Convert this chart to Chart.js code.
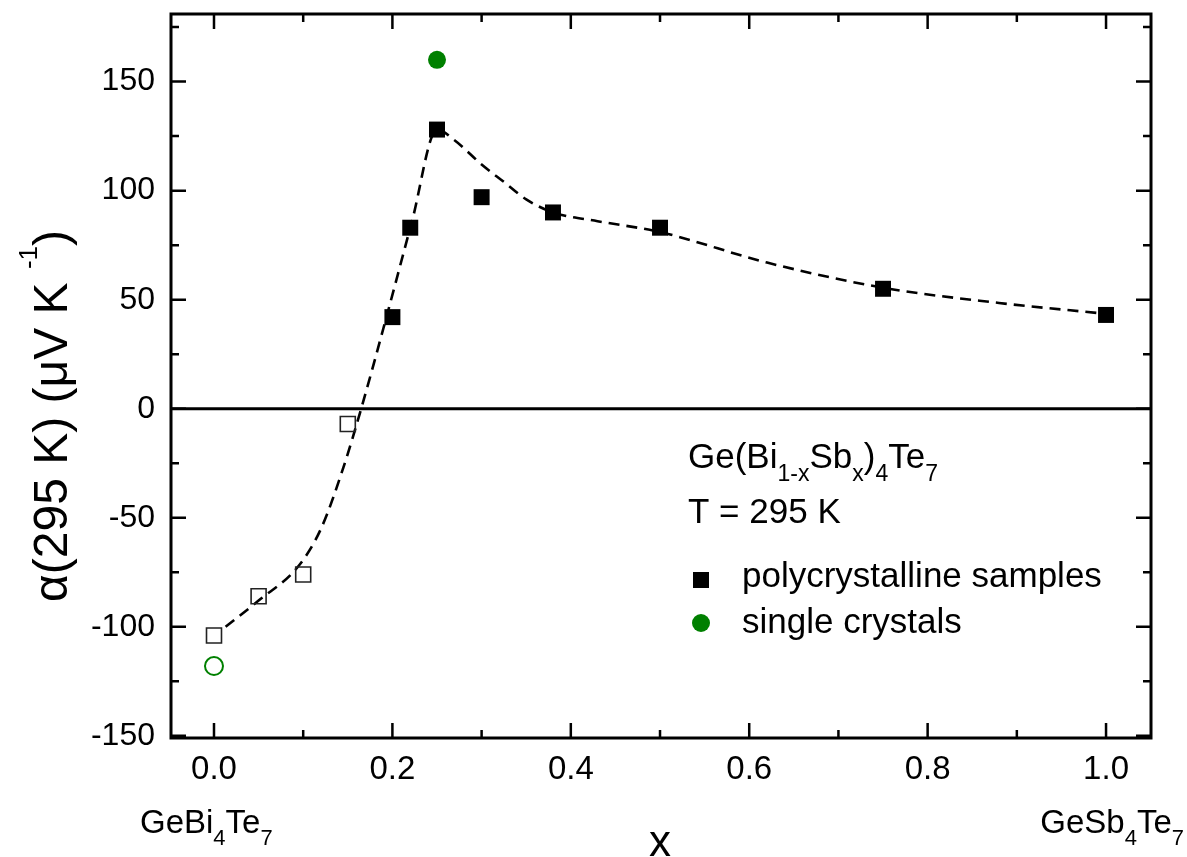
<!DOCTYPE html>
<html>
<head>
<meta charset="utf-8">
<script src="https://cdn.jsdelivr.net/npm/chart.js@4/dist/chart.umd.min.js"></script>
<style>
  html, body { margin: 0; padding: 0; background: #fff; }
</style>
</head>
<body>
<canvas id="chart" width="1187" height="857"></canvas>
<script>
// tick positions
const xTicks = [0, 0.2, 0.4, 0.6, 0.8, 1.0];
const xMinor = [0.1, 0.3, 0.5, 0.7, 0.9];
const yTicks = [-150, -100, -50, 0, 50, 100, 150];
const yMinor = [-125, -75, -25, 25, 75, 125, 175];

// polycrystalline samples (open = n-type side, filled = p-type side)
const polyOpenX = [0, 0.05, 0.1, 0.15];
const polyOpenY = [-104, -86, -76, -7];
const polyX = [0.2, 0.22, 0.25, 0.3, 0.38, 0.5, 0.75, 1.0];
const polyY = [42, 83, 128, 97, 90, 83, 55, 43];

// single crystals
const singleX = [0.25];
const singleY = [160];
const singleOpenX = [0];
const singleOpenY = [-118];

// dashed guide line
const fitX = [0.013, 0.05, 0.095, 0.12, 0.145, 0.165, 0.19, 0.222, 0.25, 0.27, 0.3, 0.325, 0.35, 0.38, 0.43, 0.5, 0.62, 0.75, 0.88, 1.0];
const fitY = [-100, -88, -72, -55, -27, 0, 37, 86, 128, 123, 112, 104, 96, 90, 86, 81, 67, 55.5, 48.5, 43.5];

const FONT = '"Liberation Sans", Arial, sans-serif';
const pts = (xs, ys) => xs.map((x, i) => ({ x: x, y: ys[i] }));

// text made of normal / sub / sup pieces
function richWidth(ctx, segs, size, small) {
    let w = 0;
    segs.forEach(([t, k]) => {
        ctx.font = (k ? small : size) + 'px ' + FONT;
        w += ctx.measureText(t).width;
    });
    return w;
}
function drawRich(ctx, segs, x, y, size, small, subOff, supOff) {
    segs.forEach(([t, k]) => {
        ctx.font = (k ? small : size) + 'px ' + FONT;
        let dy = 0;
        if (k === 1) dy = subOff;
        if (k === 2) dy = -supOff;
        ctx.fillText(t, x, y + dy);
        x += ctx.measureText(t).width;
    });
}

const decor = {
    id: 'decor',
    beforeDatasetsDraw(chart) {
        const { ctx, chartArea: a, scales: { y } } = chart;
        const y0 = y.getPixelForValue(0);
        ctx.save();
        ctx.strokeStyle = '#000';
        ctx.lineWidth = 3;
        ctx.beginPath();
        ctx.moveTo(a.left, y0);
        ctx.lineTo(a.right, y0);
        ctx.stroke();
        ctx.restore();
    },
    afterDraw(chart) {
        const { ctx, chartArea: a, scales: { x, y } } = chart;
        ctx.save();
        ctx.strokeStyle = '#000';
        ctx.lineWidth = 3;
        ctx.strokeRect(a.left, a.top, a.right - a.left, a.bottom - a.top);

        // inward ticks on all four sides
        ctx.lineWidth = 2.5;
        ctx.beginPath();
        const xt = (v, len) => {
            const px = x.getPixelForValue(v);
            ctx.moveTo(px, a.bottom); ctx.lineTo(px, a.bottom - len);
            ctx.moveTo(px, a.top); ctx.lineTo(px, a.top + len);
        };
        const yt = (v, len) => {
            const py = y.getPixelForValue(v);
            ctx.moveTo(a.left, py); ctx.lineTo(a.left + len, py);
            ctx.moveTo(a.right, py); ctx.lineTo(a.right - len, py);
        };
        xTicks.forEach(v => xt(v, 15));
        xMinor.forEach(v => xt(v, 8));
        yTicks.forEach(v => yt(v, 15));
        yMinor.forEach(v => yt(v, 8));
        ctx.stroke();

        ctx.fillStyle = '#000';
        ctx.textBaseline = 'alphabetic';
        ctx.textAlign = 'left';

        // end-member labels under the x axis
        const left = [['GeBi', 0], ['4', 1], ['Te', 0], ['7', 1]];
        drawRich(ctx, left, 140, 833, 33, 22, 12, 0);
        const right = [['GeSb', 0], ['4', 1], ['Te', 0], ['7', 1]];
        const rw = richWidth(ctx, right, 33, 22);
        drawRich(ctx, right, 1184 - rw, 833, 33, 22, 12, 0);

        // x axis title
        ctx.font = '44px ' + FONT;
        ctx.textAlign = 'center';
        ctx.fillText('x', 660, 856);
        ctx.textAlign = 'left';

        // y axis title, rotated
        const yt2 = [['\u03b1(295 K) (\u03bcV K ', 0], ['-1', 2], [')', 0]];
        const tw = richWidth(ctx, yt2, 48, 26);
        ctx.save();
        ctx.translate(67, 416);
        ctx.rotate(-Math.PI / 2);
        ctx.scale(372 / tw, 1);
        drawRich(ctx, yt2, -tw / 2, 0, 48, 26, 0, 30);
        ctx.restore();

        // composition and temperature note
        const comp = [['Ge(Bi', 0], ['1-x', 1], ['Sb', 0], ['x', 1], [')', 0], ['4', 1], ['Te', 0], ['7', 1]];
        drawRich(ctx, comp, 688, 468, 35, 23, 13, 0);
        ctx.font = '35px ' + FONT;
        ctx.fillText('T = 295 K', 688, 523);

        // legend
        ctx.fillRect(693, 572, 16, 16);
        ctx.fillText('polycrystalline samples', 742, 587);
        ctx.fillStyle = '#008000';
        ctx.beginPath();
        ctx.arc(701, 623, 9, 0, Math.PI * 2);
        ctx.fill();
        ctx.fillStyle = '#000';
        ctx.fillText('single crystals', 742, 633);
        ctx.restore();
    }
};

new Chart(document.getElementById('chart'), {
    type: 'scatter',
    data: {
        datasets: [
            {
                label: 'polycrystalline samples',
                data: pts(polyX, polyY),
                pointStyle: 'rect',
                pointRadius: 11.3,
                backgroundColor: '#000',
                borderColor: '#000',
                borderWidth: 0
            },
            {
                label: 'polycrystalline (n)',
                data: pts(polyOpenX, polyOpenY),
                pointStyle: 'rect',
                pointRadius: 10.6,
                backgroundColor: 'rgba(0,0,0,0)',
                borderColor: '#222',
                borderWidth: 1.6
            },
            {
                label: 'single crystals',
                data: pts(singleX, singleY),
                pointStyle: 'circle',
                pointRadius: 9,
                backgroundColor: '#008000',
                borderColor: '#008000',
                borderWidth: 0
            },
            {
                label: 'single crystals (n)',
                data: pts(singleOpenX, singleOpenY),
                pointStyle: 'circle',
                pointRadius: 9,
                backgroundColor: 'rgba(0,0,0,0)',
                borderColor: '#008000',
                borderWidth: 2
            },
            {
                label: 'guide',
                data: pts(fitX, fitY),
                showLine: true,
                pointRadius: 0,
                borderColor: '#000',
                borderWidth: 2.6,
                borderDash: [11, 7],
                cubicInterpolationMode: 'monotone',
                fill: false
            }
        ]
    },
    options: {
        responsive: false,
        animation: false,
        devicePixelRatio: 1,
        layout: { padding: { top: 14, right: 36, left: 0, bottom: 0 } },
        plugins: { legend: { display: false }, tooltip: { enabled: false } },
        scales: {
            x: {
                type: 'linear',
                min: -0.0482,
                max: 1.0504,
                afterBuildTicks: s => { s.ticks = xTicks.map(v => ({ value: v })); },
                afterFit: s => { s.height = 119; s.paddingLeft = 0; s.paddingRight = 0; },
                grid: { display: false, drawTicks: false },
                border: { display: false },
                ticks: {
                    padding: 12,
                    color: '#000',
                    font: { family: FONT, size: 33 },
                    maxRotation: 0,
                    autoSkip: false,
                    callback: v => Number(v).toFixed(1)
                }
            },
            y: {
                type: 'linear',
                min: -151,
                max: 181,
                afterBuildTicks: s => { s.ticks = yTicks.map(v => ({ value: v })); },
                afterFit: s => { s.width = 171; s.paddingTop = 0; s.paddingBottom = 0; },
                grid: { display: false, drawTicks: false },
                border: { display: false },
                ticks: {
                    padding: 16,
                    color: '#000',
                    font: { family: FONT, size: 32 },
                    autoSkip: false,
                    callback: v => String(v)
                }
            }
        }
    },
    plugins: [decor]
});
</script>
</body>
</html>
